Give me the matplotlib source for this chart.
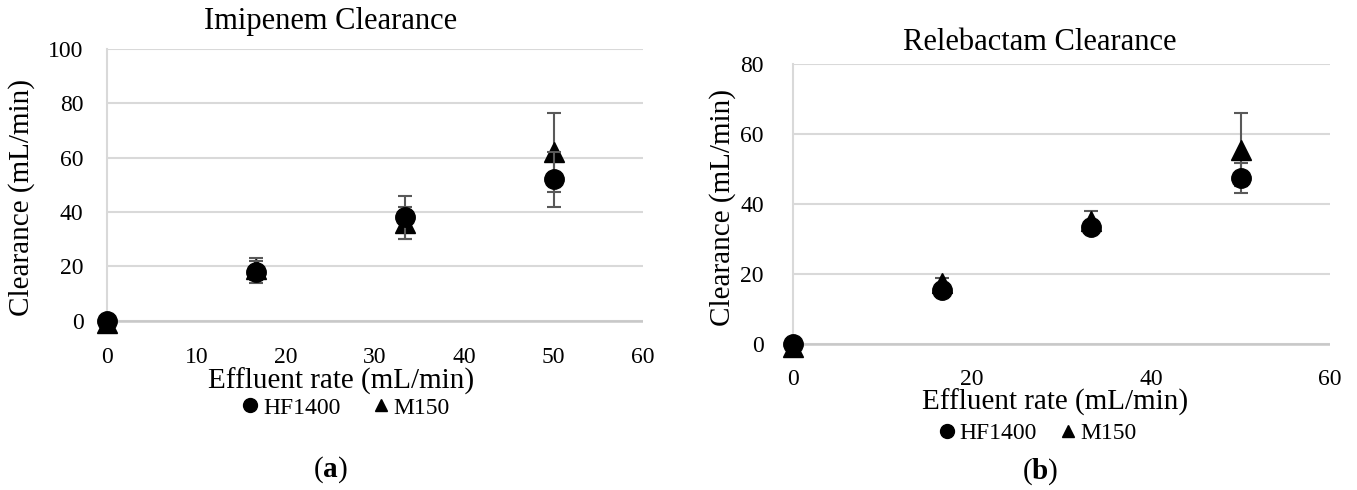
import matplotlib
matplotlib.use("Agg")
import matplotlib.pyplot as plt
from matplotlib.lines import Line2D

plt.rcParams['font.family'] = ['Liberation Serif', 'DejaVu Serif']
plt.rcParams['mathtext.fontset'] = 'custom'
plt.rcParams['mathtext.rm'] = 'Liberation Serif'
plt.rcParams['mathtext.bf'] = 'Liberation Serif:bold'

# Data
effluent = [0, 16.67, 33.33, 50]

imi_hf_y = [0, 18, 38, 52]
imi_hf_err = [0, 4, 8, 10]
imi_m_y = [-1, 19, 36, 62]
imi_m_err = [0, 4, 6, 14.5]

rel_hf_y = [0, 15.5, 33.4, 47.5]
rel_hf_err = [0, 1, 1.5, 4.3]
rel_m_y = [-1, 17.5, 35, 55.5]
rel_m_err = [0, 1.3, 3, 10.5]

series_names = ["HF1400", "M150"]
imi_yticks = [0, 20, 40, 60, 80, 100]
imi_xticks = [0, 10, 20, 30, 40, 50, 60]
rel_yticks = [0, 20, 40, 60, 80]
rel_xticks = [0, 20, 40, 60]

W, H = 1357, 490
fig = plt.figure(figsize=(W / 100, H / 100), dpi=100)

GRID = '#d9d9d9'
ERR = '#595959'
LAB = 21
TICK = 17


def make_ax(px0, px1, py_top, py_bot):
    return fig.add_axes([px0 / W, 1 - py_bot / H, (px1 - px0) / W, (py_bot - py_top) / H])


def style(ax, ylim, yticks, xticks, pad_x, pad_y):
    ax.set_xlim(0, 60)
    ax.set_ylim(*ylim)
    ax.set_yticks(yticks)
    ax.set_xticks(xticks)
    ax.yaxis.grid(True, color=GRID, lw=1.5)
    ax.set_axisbelow(True)
    for s in ['top', 'right', 'bottom']:
        ax.spines[s].set_visible(False)
    ax.spines['left'].set_color(GRID)
    ax.spines['left'].set_linewidth(1.5)
    ax.axhline(0, color='#c8c8c8', lw=1.8, zorder=1)
    ax.tick_params(length=0, labelsize=TICK)
    ax.tick_params(axis='x', pad=pad_x)
    ax.tick_params(axis='y', pad=pad_y)


def draw(ax, hy, he, my, me):
    ax.errorbar(effluent, my, yerr=me, fmt='^', color='black', ms=14,
                ecolor=ERR, elinewidth=1.5, capsize=5, capthick=1.5, clip_on=False, zorder=3)
    ax.errorbar(effluent, hy, yerr=he, fmt='o', color='black', ms=14,
                ecolor=ERR, elinewidth=1.5, capsize=5, capthick=1.5, clip_on=False, zorder=4)


def legend(x_center, y_px, colsp):
    handles = [Line2D([], [], marker='o', color='black', ls='none', ms=10),
               Line2D([], [], marker='^', color='black', ls='none', ms=9)]
    fig.legend(handles, series_names, loc='center', bbox_to_anchor=(x_center / W, 1 - y_px / H),
               ncol=2, frameon=False, fontsize=17, handletextpad=0.05, columnspacing=colsp,
               handlelength=1.0, borderpad=0, borderaxespad=0)


# Left panel
ax1 = make_ax(107, 643, 49, 330)
style(ax1, (-3.4, 100), imi_yticks, imi_xticks, 12, 17)
draw(ax1, imi_hf_y, imi_hf_err, imi_m_y, imi_m_err)
fig.text(331 / W, 1 - 22 / H, "Imipenem Clearance", ha='center', va='center', fontsize=22)
fig.text(341 / W, 1 - 381 / H, "Effluent rate (mL/min)", ha='center', va='center', fontsize=LAB)
fig.text(22 / W, 1 - 197 / H, "Clearance (mL/min)", ha='center', va='center', fontsize=LAB, rotation=90)
legend(344, 408, 1.2)
fig.text(330 / W, 1 - 470 / H, r"($\mathbf{a}$)", ha='center', va='center', fontsize=LAB)

# Right panel
ax2 = make_ax(793, 1330, 64, 355)
style(ax2, (-3.2, 80), rel_yticks, rel_xticks, 10, 21)
draw(ax2, rel_hf_y, rel_hf_err, rel_m_y, rel_m_err)
fig.text(1040 / W, 1 - 42 / H, "Relebactam Clearance", ha='center', va='center', fontsize=22)
fig.text(1055 / W, 1 - 402 / H, "Effluent rate (mL/min)", ha='center', va='center', fontsize=LAB)
fig.text(723 / W, 1 - 207 / H, "Clearance (mL/min)", ha='center', va='center', fontsize=LAB, rotation=90)
legend(1036, 433, 0.8)
fig.text(1040 / W, 1 - 472 / H, r"($\mathbf{b}$)", ha='center', va='center', fontsize=LAB)

fig.savefig("out.png", dpi=100, facecolor='white')
